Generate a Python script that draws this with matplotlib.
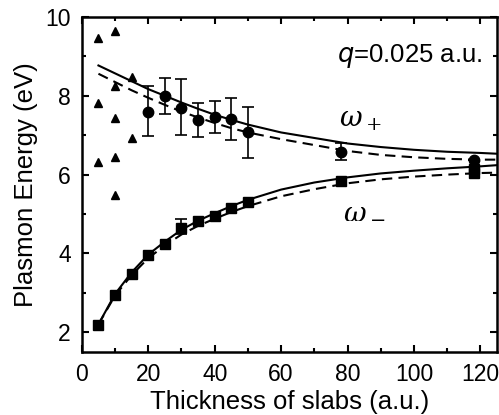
import matplotlib
matplotlib.use("Agg")
import matplotlib.pyplot as plt
from matplotlib.ticker import MultipleLocator

plt.rcParams['font.family'] = ['Liberation Sans', 'DejaVu Sans']

# scattered triangles (small thickness)
tri_x = [5, 5, 5, 10, 10, 10, 10, 10, 15, 15]
tri_y = [9.47, 7.81, 6.33, 9.64, 8.25, 7.43, 6.44, 5.47, 8.49, 6.92]

# omega+ data with error bars
up_x = [20, 25, 30, 35, 40, 45, 50, 78, 118]
up_y = [7.60, 7.99, 7.69, 7.38, 7.47, 7.42, 7.07, 6.57, 6.36]
up_lo = [6.97, 7.53, 7.00, 6.95, 7.06, 6.89, 6.43, 6.38, 6.36]
up_hi = [8.26, 8.44, 8.42, 7.83, 7.86, 7.94, 7.72, 6.80, 6.36]

# omega- data
lo_x = [5, 10, 15, 20, 25, 30, 35, 40, 45, 50, 78, 118, 118]
lo_y = [2.18, 2.95, 3.48, 3.95, 4.24, 4.65, 4.82, 4.95, 5.16, 5.31, 5.83, 6.04, 6.14]
lo_err_x = [30]
lo_err_y = [4.65]
lo_err_lo = [4.50]
lo_err_hi = [4.88]

# theory curves
cx = [5, 10, 15, 20, 25, 30, 35, 40, 45, 50, 60, 70, 80, 90, 100, 110, 120, 125]
up_solid = [8.77, 8.57, 8.37, 8.17, 8.00, 7.83, 7.67, 7.52, 7.39, 7.27,
            7.07, 6.93, 6.79, 6.70, 6.63, 6.58, 6.55, 6.53]
up_dash = [8.56, 8.35, 8.14, 7.95, 7.77, 7.60, 7.45, 7.31, 7.18, 7.07,
           6.90, 6.75, 6.60, 6.50, 6.44, 6.40, 6.38, 6.38]
lo_solid = [2.20, 2.97, 3.52, 3.97, 4.30, 4.60, 4.83, 5.02, 5.20, 5.36,
            5.62, 5.80, 5.93, 6.03, 6.10, 6.16, 6.21, 6.24]
lo_dash = [2.20, 2.93, 3.45, 3.88, 4.20, 4.48, 4.70, 4.88, 5.05, 5.20,
           5.45, 5.63, 5.78, 5.88, 5.95, 6.00, 6.04, 6.05]

fig = plt.figure(figsize=(4.99, 4.15), dpi=100)
ax = fig.add_axes([0.164, 0.152, 0.832, 0.807])

ax.plot(cx, up_solid, color='black', lw=1.5)
ax.plot(cx, up_dash, color='black', lw=1.5, ls=(0, (5, 3)))
ax.plot(cx, lo_solid, color='black', lw=1.5)
ax.plot(cx, lo_dash, color='black', lw=1.5, ls=(0, (5, 3)))

ax.plot(tri_x, tri_y, '^', color='black', ms=6, ls='none')

yerr = [[y - l for y, l in zip(up_y, up_lo)], [h - y for y, h in zip(up_y, up_hi)]]
ax.errorbar(up_x, up_y, yerr=yerr, fmt='o', color='black', ms=7.5,
            capsize=4, elinewidth=1.2, capthick=1.2)
ax.plot(lo_x, lo_y, 's', color='black', ms=6.5, ls='none')
lyerr = [[y - l for y, l in zip(lo_err_y, lo_err_lo)],
         [h - y for y, h in zip(lo_err_y, lo_err_hi)]]
ax.errorbar(lo_err_x, lo_err_y, yerr=lyerr, fmt='none', ecolor='black',
            capsize=4, elinewidth=1.2, capthick=1.2)

ax.set_xlim(0, 125)
ax.set_ylim(1.5, 10)
ax.xaxis.set_major_locator(MultipleLocator(20))
ax.xaxis.set_minor_locator(MultipleLocator(10))
ax.yaxis.set_major_locator(MultipleLocator(2))
ax.yaxis.set_minor_locator(MultipleLocator(1))
ax.tick_params(which='both', direction='in', top=True, right=True,
               labelsize=16.5, width=1.5, pad=8)
ax.tick_params(which='major', length=5)
ax.tick_params(which='minor', length=3)
for s in ax.spines.values():
    s.set_linewidth(1.8)

ax.set_xlabel('Thickness of slabs (a.u.)', fontsize=18.5, labelpad=3)
ax.set_ylabel('Plasmon Energy (eV)', fontsize=18.5, labelpad=5)

ax.text(0.965, 0.885, r'$q$=0.025 a.u.', transform=ax.transAxes,
        ha='right', va='center', fontsize=18.5)
ax.text(77.3, 7.23, r'$\omega_+$', fontsize=20, ha='left', va='baseline',
        math_fontfamily='dejavuserif')
ax.text(78.5, 4.89, r'$\omega_-$', fontsize=20, ha='left', va='baseline',
        math_fontfamily='dejavuserif')

fig.savefig('out.png', dpi=100)
